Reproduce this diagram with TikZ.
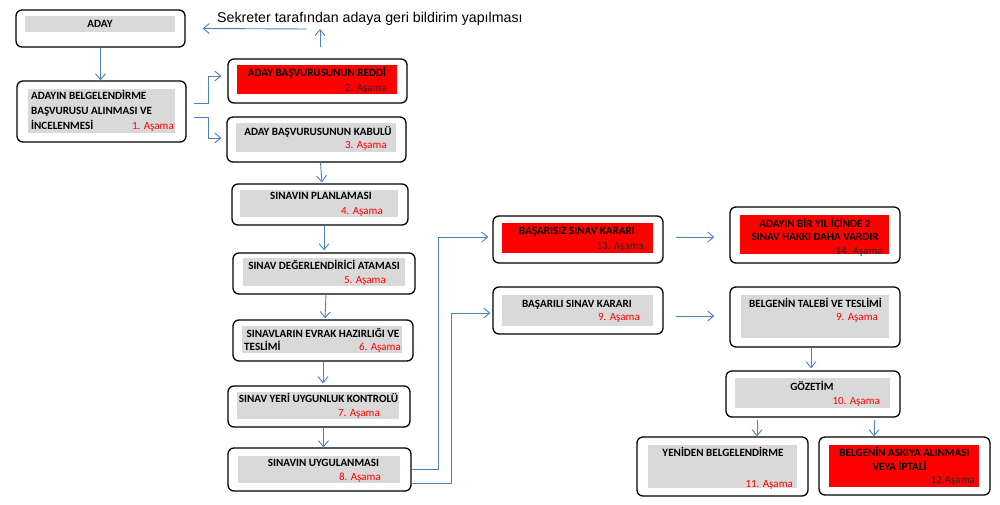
\documentclass[tikz,border=0pt]{standalone}
\usepackage{fontspec}
\usetikzlibrary{fit,arrows.meta}
\newfontfamily\carlitofam{Carlito}
\newfontfamily\arialfam{Liberation Sans}
\definecolor{boxgray}{HTML}{D9D9D9}
\definecolor{boxred}{HTML}{FF0000}
\definecolor{linkblue}{HTML}{4F81BD}
\definecolor{stagered}{HTML}{FF0000}
\tikzset{
  obox/.style={draw=black, fill=white, line width=1.3pt, rounded corners=6pt, inner sep=0pt},
  gbox/.style={fill=boxgray, draw=none, inner sep=0pt},
  rbox/.style={fill=boxred, draw=none, inner sep=0pt},
  ttl/.style={font=\carlitofam\bfseries\fontsize{11.1}{15}\selectfont, text=black, inner sep=0pt, anchor=base},
  ttlw/.style={ttl, anchor=base west},
  asm/.style={font=\carlitofam\fontsize{11}{15}\selectfont, text=stagered, inner sep=0pt, anchor=base east},
  asmd/.style={asm, text=black!85},
  arr/.style={draw=linkblue, line width=0.9pt, -{Straight Barb[length=6pt,width=10pt]}},
  note/.style={font=\arialfam\fontsize{14.2}{16}\selectfont, inner sep=0pt, anchor=base west}
}
\begin{document}
\begin{tikzpicture}[x=1pt,y=-1pt]
\useasboundingbox (0,0) rectangle (1000,505);
\fill[white] (0,0) rectangle (1000,505);

% ---- outer boxes
\node[obox, fit={(16,10)(185,47)}] (aday) {};
\node[obox, fit={(17,81)(186,142)}] (b1) {};
\node[obox, fit={(228,59)(407,103)}] (b2) {};
\node[obox, fit={(227,117)(406,162)}] (b3) {};
\node[obox, fit={(232,184)(408,225)}] (b4) {};
\node[obox, fit={(233,253)(415,294)}] (b5) {};
\node[obox, fit={(233,320)(413,361)}] (b6) {};
\node[obox, fit={(228,386)(410,427)}] (b7) {};
\node[obox, fit={(228,448)(411,491)}] (b8) {};
\node[obox, fit={(493,216)(663,263)}] (b13) {};
\node[obox, fit={(730,207)(900,263)}] (b14) {};
\node[obox, fit={(493,287)(663,334)}] (b9) {};
\node[obox, fit={(730,287)(900,347)}] (belge) {};
\node[obox, fit={(726,371)(900,417)}] (goz) {};
\node[obox, fit={(637,437)(808,496)}] (b11) {};
\node[obox, fit={(819,437)(990,495)}] (b12) {};

% ---- inner fills
\node[gbox, fit={(25,16)(175,32)}] (adayg) {};
\node[gbox, fit={(28,89)(175,133)}] (b1g) {};
\node[rbox, fit={(237,65)(397,94)}] (b2g) {};
\node[gbox, fit={(236,123)(396,152)}] (b3g) {};
\node[gbox, fit={(240,190)(398,217)}] (b4g) {};
\node[gbox, fit={(243,258)(405,286)}] (b5g) {};
\node[gbox, fit={(242,326)(402,353)}] (b6g) {};
\node[gbox, fit={(237,392)(399,419)}] (b7g) {};
\node[gbox, fit={(238,456)(400,483)}] (b8g) {};
\node[rbox, fit={(502,223)(653,253)}] (b13g) {};
\node[rbox, fit={(740,215)(889,254)}] (b14g) {};
\node[gbox, fit={(502,295)(653,326)}] (b9g) {};
\node[gbox, fit={(741,295)(889,338)}] (belgeg) {};
\node[gbox, fit={(735,378)(890,408)}] (gozg) {};
\node[gbox, fit={(648,445)(797,488)}] (b11g) {};
\node[rbox, fit={(829,445)(979,487)}] (b12g) {};

% ---- texts
\node[ttl] (t0) at (100,27.5) {ADAY};
\node[ttlw] (t1a) at (31,99.5) {ADAYIN BELGELENDİRME};
\node[ttlw] (t1b) at (31,114.5) {BAŞVURUSU ALINMASI VE};
\node[ttlw] (t1c) at (31,129.5) {İNCELENMESİ};
\node[asm] (a1) at (174,129.5) {1. Aşama};

\node[ttl] (t2) at (317,77) {ADAY BAŞVURUSUNUN REDDİ};
\node[asmd] (a2) at (387,92) {2. Aşama};

\node[ttl] (t3) at (318,136) {ADAY BAŞVURUSUNUN KABULÜ};
\node[asm] (a3) at (387,148.5) {3. Aşama};

\node[ttl] (t4) at (321,200) {SINAVIN PLANLAMASI};
\node[asm] (a4) at (383,214) {4. Aşama};

\node[ttl] (t5) at (324,269) {SINAV DEĞERLENDİRİCİ ATAMASI};
\node[asm] (a5) at (386,283) {5. Aşama};

\node[ttl] (t6a) at (323,337) {SINAVLARIN EVRAK HAZIRLIĞI VE};
\node[ttlw] (t6b) at (244,350) {TESLİMİ};
\node[asm] (a6) at (401,350) {6. Aşama};

\node[ttl] (t7) at (318.5,402) {SINAV YERİ UYGUNLUK KONTROLÜ};
\node[asm] (a7) at (380,416) {7. Aşama};

\node[ttl] (t8) at (323.5,466) {SINAVIN UYGULANMASI};
\node[asm] (a8) at (381,480) {8. Aşama};

\node[ttl] (t13) at (577,234) {BAŞARISIZ SINAV KARARI};
\node[asmd] (a13) at (644,249) {13. Aşama};

\node[ttl] (t14a) at (815,227) {ADAYIN BİR YIL İÇİNDE 2};
\node[ttl] (t14b) at (815,240) {SINAV HAKKI DAHA VARDIR};
\node[asmd] (a14) at (883,254) {14. Aşama};

\node[ttl] (t9) at (577,307) {BAŞARILI SINAV KARARI};
\node[asm] (a9) at (640,320) {9. Aşama};

\node[ttl] (tb) at (815.5,307) {BELGENİN TALEBİ VE TESLİMİ};
\node[asm] (ab) at (878,320) {9. Aşama};

\node[ttl] (tg) at (812,390) {GÖZETİM};
\node[asm] (ag) at (880,404) {10. Aşama};

\node[ttl] (t11) at (723,456.5) {YENİDEN BELGELENDİRME};
\node[asm] (a11) at (793,487) {11. Aşama};

\node[ttl] (t12a) at (904.5,456.5) {BELGENİN ASKIYA ALINMASI};
\node[ttl] (t12b) at (899.5,470) {VEYA İPTALİ};
\node[asmd] (a12) at (975,483) {12.Aşama};

\node[note] (sek) at (217,23) {Sekreter tarafından adaya geri bildirim yapılması};

% ---- connectors
\coordinate (fbL) at (307,29);
\coordinate (fbU) at (320,47);
\draw[arr] (fbL) -- ([xshift=17pt]aday.east);
\draw[arr] (fbU) -- (fbU |- fbL);

\draw[arr] (aday.south) -- (aday.south |- b1.north);
\draw[arr] ([xshift=7pt,yshift=8.5pt]b1.east) -- ++(15,0) |- ([xshift=-6pt,yshift=5pt]b2.west);
\draw[arr] ([xshift=7pt,yshift=-5.5pt]b1.east) -- ++(15,0) |- ([xshift=-5pt,yshift=1.5pt]b3.west);

\draw[arr] ([xshift=4pt]b3.south) -- ([xshift=2pt,yshift=1pt]b4.north);
\draw[arr] ([xshift=4pt]b4.south) -- ([xshift=4pt,yshift=2pt]b4.south |- b5.north);
\draw[arr] ([xshift=2pt]b5.south) -- ([xshift=2pt,yshift=1pt]b6.north);
\draw[arr] (b6.south) -- ([yshift=2pt]b6.south |- b7.north);
\draw[arr] ([xshift=4.5pt]b7.south) -- ([xshift=4.5pt]b7.south |- b8.north);

\draw[arr] (b8.east) -- ++(27,0) |- ([xshift=-4pt,yshift=2.5pt]b13.west);
\draw[arr] ([yshift=-13.5pt]b8.east) -- ++(40,0) |- ([xshift=-2pt,yshift=-2.5pt]b9.west);

\draw[arr] ([xshift=12pt,yshift=2.5pt]b13.east) -- ([xshift=-15pt,yshift=-2pt]b14.west);
\draw[arr] ([xshift=12pt,yshift=-5.5pt]b9.east) -- ([xshift=-15pt,yshift=1pt]belge.west);

\draw[arr] ([xshift=-4pt]belge.south) -- ([xshift=-4pt,yshift=2pt]belge.south |- goz.north);
\draw[arr] ([xshift=-56pt,yshift=-2pt]goz.south) -- ([xshift=-56pt]goz.south |- b11.north);
\draw[arr] ([xshift=61pt,yshift=-2pt]goz.south) -- ([xshift=61pt]goz.south |- b12.north);
\end{tikzpicture}
\end{document}
